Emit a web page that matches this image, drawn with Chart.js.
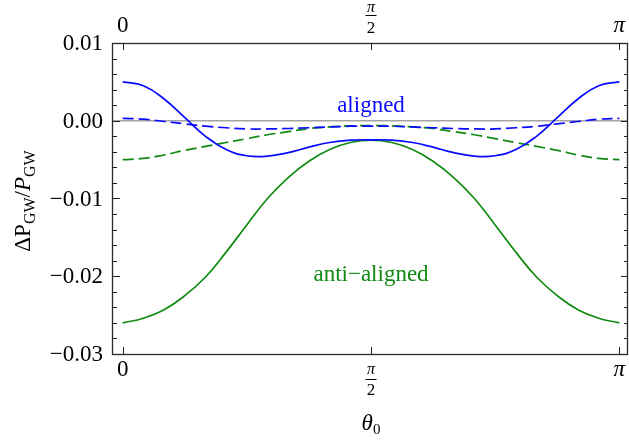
<!DOCTYPE html>
<html>
<head>
<meta charset="utf-8">
<script src="https://cdn.jsdelivr.net/npm/chart.js@4"></script>
<style>
  html, body { margin: 0; padding: 0; background: #fff; }
  #wrap { width: 629px; height: 440px; }
</style>
</head>
<body>
<div id="wrap"><canvas id="chartCanvas" width="629" height="440"></canvas></div>
<script>
// sample angles theta_0 (rad)
const theta = [0, 0.131, 0.262, 0.393, 0.524, 0.654, 0.785, 0.916, 1.047, 1.178, 1.309, 1.440, 1.571,
  1.702, 1.833, 1.963, 2.094, 2.225, 2.356, 2.487, 2.618, 2.749, 2.880, 3.011, 3.142];

// aligned spins
const alignedSolid = [0.0050, 0.0045, 0.0028, 0.0004, -0.0020, -0.0037, -0.0045, -0.00455, -0.0041, -0.0034, -0.0028, -0.0025, -0.00245,
  -0.0025, -0.0028, -0.0034, -0.0041, -0.00455, -0.0045, -0.0037, -0.0020, 0.0004, 0.0028, 0.0045, 0.0050];
const alignedDashed = [0.0003, 0.0002, -0.0001, -0.0004, -0.0007, -0.0009, -0.00105, -0.00105, -0.0010, -0.0009, -0.0008, -0.0007, -0.00068,
  -0.0007, -0.0008, -0.0009, -0.0010, -0.00105, -0.00105, -0.0009, -0.0007, -0.0004, -0.0001, 0.0002, 0.0003];

// anti-aligned spins
const antiSolid = [-0.0260, -0.0254, -0.0243, -0.0225, -0.0201, -0.0169, -0.0134, -0.0100, -0.0073, -0.0052, -0.0037, -0.0028, -0.0025,
  -0.0028, -0.0037, -0.0052, -0.0073, -0.0100, -0.0134, -0.0169, -0.0201, -0.0225, -0.0243, -0.0254, -0.0260];
const antiDashed = [-0.0050, -0.00485, -0.0044, -0.0038, -0.0033, -0.0028, -0.0023, -0.0018, -0.0014, -0.0010, -0.0008, -0.00066, -0.00062,
  -0.00066, -0.0008, -0.0010, -0.0014, -0.0018, -0.0023, -0.0028, -0.0033, -0.0038, -0.0044, -0.00485, -0.0050];

// ticks
const yTicks = [-0.03, -0.02, -0.01, 0, 0.01];
const yTickLabels = ['\u22120.03', '\u22120.02', '\u22120.01', '0.00', '0.01'];
const yMinorStep = 0.002;
const xTicks = [0, Math.PI / 2, Math.PI];

const BLUE = '#0a0aff';
const GREEN = '#118a11';
const SERIF = '"Liberation Serif", "DejaVu Serif", serif';

function toPoints(ys) {
  return theta.map((t, i) => ({ x: t, y: ys[i] }));
}

function curve(label, ys, color, dashed) {
  return {
    label: label,
    data: toPoints(ys),
    borderColor: color,
    borderWidth: 1.7,
    borderDash: dashed ? [11, 5] : [],
    pointRadius: 0,
    fill: false,
    tension: 0.45
  };
}

// draw the x tick label, stacked fraction for pi/2
function drawXLabel(ctx, x, idx, yc, top) {
  ctx.fillStyle = '#000';
  ctx.textAlign = 'center';
  ctx.textBaseline = 'middle';
  if (idx === 1) {
    ctx.font = 'italic 16px ' + SERIF;
    ctx.fillText('\u03c0', x, top ? 8 : 370);
    ctx.strokeStyle = '#000';
    ctx.lineWidth = 1;
    const by = top ? 15.5 : 379.5;
    ctx.beginPath();
    ctx.moveTo(x - 5.5, by);
    ctx.lineTo(x + 5.5, by);
    ctx.stroke();
    ctx.font = '17px ' + SERIF;
    ctx.fillText('2', x, top ? 29 : 391);
  } else if (idx === 0) {
    ctx.font = '23px ' + SERIF;
    ctx.fillText('0', x, yc);
  } else {
    ctx.font = 'italic 23px ' + SERIF;
    ctx.fillText('\u03c0', x, yc);
  }
}

const framePlugin = {
  id: 'framePlugin',
  afterDatasetsDraw(chart) {
    const ctx = chart.ctx;
    const a = chart.chartArea;
    const xs = chart.scales.x;
    const ys = chart.scales.y;
    ctx.save();

    // frame
    ctx.strokeStyle = '#2a2a2a';
    ctx.lineWidth = 1.3;
    ctx.strokeRect(a.left - 0.5, a.top + 0.5, a.right - a.left, a.bottom - a.top);

    // y ticks, inward on both sides
    ctx.strokeStyle = '#222';
    ctx.lineWidth = 1;
    for (let v = -0.03; v <= 0.0101; v += yMinorStep) {
      const y = Math.round(ys.getPixelForValue(v)) + 0.5;
      const major = Math.abs(Math.round(v * 100) - v * 100) < 1e-6;
      const len = major ? 7 : 4;
      ctx.beginPath();
      ctx.moveTo(a.left, y); ctx.lineTo(a.left + len, y);
      ctx.moveTo(a.right, y); ctx.lineTo(a.right - len, y);
      ctx.stroke();
    }

    // x ticks, top and bottom
    xTicks.forEach(t => {
      const x = Math.round(xs.getPixelForValue(t)) + 0.5;
      ctx.beginPath();
      ctx.moveTo(x, a.bottom); ctx.lineTo(x, a.bottom - 7);
      ctx.moveTo(x, a.top); ctx.lineTo(x, a.top + 7);
      ctx.stroke();
    });

    // y tick labels
    ctx.fillStyle = '#000';
    ctx.font = '23px ' + SERIF;
    ctx.textAlign = 'right';
    ctx.textBaseline = 'middle';
    yTicks.forEach((v, i) => {
      ctx.fillText(yTickLabels[i], 103, ys.getPixelForValue(v) + 1);
    });

    // x tick labels (bottom and top)
    xTicks.forEach((t, i) => {
      const x = xs.getPixelForValue(t);
      drawXLabel(ctx, x, i, 370, false);
      drawXLabel(ctx, x, i, 26, true);
    });

    // x title: theta_0
    ctx.textAlign = 'left';
    ctx.textBaseline = 'alphabetic';
    ctx.font = 'italic 23px ' + SERIF;
    const tw = ctx.measureText('\u03b8').width;
    ctx.font = '15px ' + SERIF;
    const sw = ctx.measureText('0').width;
    const tx = xs.getPixelForValue(Math.PI / 2) - (tw + sw) / 2;
    ctx.font = 'italic 23px ' + SERIF;
    ctx.fillText('\u03b8', tx, 430);
    ctx.font = '15px ' + SERIF;
    ctx.fillText('0', tx + tw, 434);

    // y title: Delta P_GW / P_GW, rotated
    const parts = [
      { t: '\u0394', f: '23px ' + SERIF, dy: 0 },
      { t: 'P', f: '23px ' + SERIF, dy: 0 },
      { t: 'GW', f: '16px ' + SERIF, dy: 5 },
      { t: '/', f: '23px ' + SERIF, dy: 0 },
      { t: 'P', f: 'italic 23px ' + SERIF, dy: 0 },
      { t: 'GW', f: '16px ' + SERIF, dy: 5 }
    ];
    let total = 0;
    parts.forEach(p => { ctx.font = p.f; p.w = ctx.measureText(p.t).width; total += p.w; });
    ctx.translate(30, 201);
    ctx.rotate(-Math.PI / 2);
    let px = -total / 2;
    parts.forEach(p => {
      ctx.font = p.f;
      ctx.fillText(p.t, px, p.dy);
      px += p.w;
    });
    ctx.setTransform(1, 0, 0, 1, 0, 0);

    // curve annotations
    ctx.textAlign = 'center';
    ctx.font = '23px ' + SERIF;
    ctx.fillStyle = BLUE;
    ctx.fillText('aligned', xs.getPixelForValue(Math.PI / 2), 112);
    ctx.fillStyle = GREEN;
    ctx.fillText('anti\u2212aligned', xs.getPixelForValue(Math.PI / 2), 281);

    ctx.restore();
  }
};

const ctx = document.getElementById('chartCanvas').getContext('2d');
const chart = new Chart(ctx, {
  type: 'line',
  data: {
    datasets: [
      curve('aligned', alignedSolid, BLUE, false),
      curve('aligned (dashed)', alignedDashed, BLUE, true),
      curve('anti-aligned', antiSolid, GREEN, false),
      curve('anti-aligned (dashed)', antiDashed, GREEN, true),
      {
        label: 'zero',
        data: [{ x: -0.07, y: 0 }, { x: 3.2, y: 0 }],
        borderColor: '#a3a3a3',
        borderWidth: 1.3,
        pointRadius: 0,
        fill: false
      }
    ]
  },
  options: {
    responsive: false,
    animation: false,
    layout: { padding: { left: 113, right: 1, top: 43, bottom: 86 } },
    plugins: { legend: { display: false }, tooltip: { enabled: false } },
    scales: {
      x: { type: 'linear', min: -0.0614, max: 3.1966, display: false },
      y: { type: 'linear', min: -0.03, max: 0.01, display: false }
    }
  },
  plugins: [framePlugin]
});
</script>
</body>
</html>
